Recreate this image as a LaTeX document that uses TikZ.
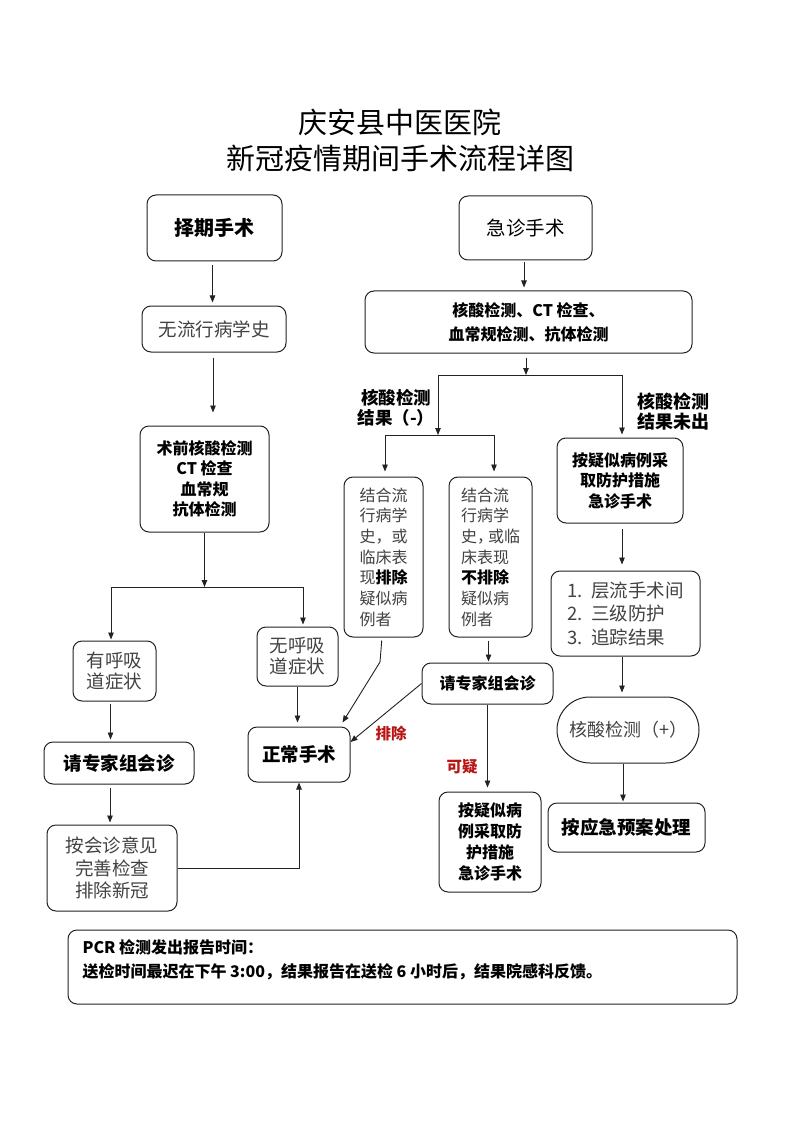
\documentclass[tikz,border=0pt]{standalone}
\usepackage{fontspec}
\setmainfont{Noto Sans CJK SC}
\usetikzlibrary{arrows.meta,calc}
\definecolor{txtgray}{RGB}{66,66,66}
\definecolor{redlbl}{RGB}{185,20,20}
\definecolor{edge}{RGB}{35,35,35}
\begin{document}
\begin{tikzpicture}[x=1pt,y=-1pt,
  box/.style={draw=edge, line width=1pt, rounded corners=9pt, inner sep=0pt, align=center},
  arr/.style={-{Triangle[length=7pt,width=5.5pt]}, line width=0.9pt, draw=edge},
  ln/.style={line width=0.9pt, draw=edge},
  bsixteen/.style={font=\bfseries\fontsize{16}{20.5}\selectfont},
  bbig/.style={font=\bfseries\fontsize{18.5}{22}\selectfont},
  gbig/.style={text=txtgray, font=\fontsize{18.5}{22}\selectfont},
  gsmall/.style={text=txtgray, font=\fontsize{16}{20.7}\selectfont},
  redtxt/.style={text=redlbl, font=\bfseries\fontsize{15.5}{18}\selectfont}]
\useasboundingbox (0,0) rectangle (800,1131);
\fill[white] (0,0) rectangle (800,1131);

% title
\node[font=\fontsize{29}{36}\selectfont] (t1) at (400,122) {庆安县中医医院};
\node[font=\fontsize{29}{36}\selectfont] (t2) at (400,158) {新冠疫情期间手术流程详图};

% left column
\node[box, minimum width=135, minimum height=66, font=\bfseries\fontsize{20}{24}\selectfont] (zq) at (214.5,228) {择期手术};
\node[box, minimum width=144, minimum height=46, gbig] (wl) at (214,329) {无流行病学史};
\node[box, minimum width=129, minimum height=106, bsixteen] (sq) at (204.5,479) {术前核酸检测\\CT 检查\\血常规\\抗体检测};
\node[box, minimum width=83, minimum height=60, gbig, font=\fontsize{18.5}{21}\selectfont] (yh) at (114.5,671) {有呼吸\\道症状};
\node[box, minimum width=81, minimum height=59, gbig, font=\fontsize{18.5}{21}\selectfont] (wh) at (297.5,656.5) {无呼吸\\道症状};
\node[box, minimum width=150, minimum height=42, bbig] (zj1) at (119,763) {请专家组会诊};
\node[box, minimum width=130, minimum height=86, gbig, font=\fontsize{18.5}{22.5}\selectfont] (ah) at (112,868) {按会诊意见\\完善检查\\排除新冠};
\node[box, minimum width=102, minimum height=55, bbig] (zc) at (299,754.5) {正常手术};

% right part
\node[box, minimum width=133, minimum height=64, font=\fontsize{19.5}{24}\selectfont] (jz) at (525.5,228) {急诊手术};
\node[box, minimum width=327, minimum height=62, font=\bfseries\fontsize{16}{24}\selectfont] (hs) at (528.5,322) {核酸检测、CT 检查、\\血常规检测、抗体检测};
\node[font=\bfseries\fontsize{17.5}{20}\selectfont, align=center] (lneg) at (396,408) {核酸检测\\结果（-）};
\node[font=\bfseries\fontsize{18}{20}\selectfont, align=center] (lpend) at (673.5,412) {核酸检测\\结果未出};
\node[box, minimum width=79, minimum height=160, gsmall, align=left] (jp) at (383.5,557) {结合流\\行病学\\史，或\\临床表\\现{\color{black}\bfseries 排除}\\疑似病\\例者};
\node[box, minimum width=83, minimum height=160, gsmall, align=left] (jb) at (490.5,557) {结合流\\行病学\\史，\kern-5pt或临\\床表现\\{\color{black}\bfseries 不排除}\\疑似病\\例者};
\node[box, minimum width=131, minimum height=41, bsixteen] (zj2) at (487.5,683.5) {请专家组会诊};
\node[box, minimum width=102, minimum height=100, font=\bfseries\fontsize{16}{21}\selectfont] (ay) at (490,842) {按疑似病\\例采取防\\护措施\\急诊手术};
\node[box, minimum width=126, minimum height=85, bsixteen] (ays) at (620,480.5) {按疑似病例采\\取防护措施\\急诊手术};
\node[box, minimum width=149, minimum height=85, gbig, font=\fontsize{18.5}{23.5}\selectfont, align=left] (cl) at (625.5,613.5) {\makebox[24pt][l]{1.}层流手术间\\\makebox[24pt][l]{2.}三级防护\\\makebox[24pt][l]{3.}追踪结果};
\node[box, minimum width=142, minimum height=66, rounded corners=33pt, gbig, font=\fontsize{18}{22}\selectfont] (pos) at (628,730) {核酸检测（+）};
\node[box, minimum width=157, minimum height=49, bbig] (yj) at (626.5,827.5) {按应急预案处理};

% bottom note
\node[box, minimum width=669, minimum height=74] (bt) at (402.5,967) {};
\node[anchor=west, align=left, font=\bfseries\fontsize{16}{24}\selectfont] (bttext) at (79,960) {PCR 检测发出报告时间：\\送检时间最迟在下午 3:00，结果报告在送检 6 小时后，结果院感科反馈。};

% connectors left
\draw[arr, shorten <=4pt, shorten >=3pt] ([xshift=-2pt]zq.south) -- ([xshift=-2pt]zq.south |- wl.north);
\draw[arr, shorten <=5pt, shorten >=13pt] ([xshift=-1pt]wl.south) -- ([xshift=-1pt]wl.south |- sq.north);
\coordinate (h3L) at (111,587);
\coordinate (h3R) at (303,587);
\draw[arr] (sq.south) -- (sq.south |- h3L);
\draw[ln] (h3L) -- (h3R);
\draw[arr, shorten >=1pt] (h3L) -- (h3L |- yh.north);
\draw[arr, shorten >=2pt] (h3R) -- (h3R |- wh.north);
\draw[arr, shorten >=4pt] (wh.south) -- (wh.south |- zc.north);
\draw[arr, shorten <=2pt, shorten >=2pt] ([xshift=-4pt]yh.south) -- ([xshift=-4pt]yh.south |- zj1.north);
\draw[arr, shorten <=3pt, shorten >=2pt] ([xshift=-9pt]zj1.south) -- ([xshift=-9pt]zj1.south |- ah.north);
\draw[arr] (ah.east) -- (ah.east -| zc.south) -- (zc.south);

% connectors right
\draw[arr, shorten <=2pt, shorten >=3pt] ([xshift=-1.5pt]jz.south) -- ([xshift=-1.5pt]jz.south |- hs.north);
\coordinate (h1L) at (438,375);
\coordinate (h1R) at (622,375);
\draw[arr, shorten <=4pt] ([xshift=-2.5pt]hs.south) -- ([xshift=-2.5pt]hs.south |- h1L);
\draw[ln] (h1L) -- (h1R);
\coordinate (h2L) at (385,435);
\coordinate (h2R) at (494,435);
\draw[arr] (h1L) -- (h1L |- h2L);
\draw[ln] (h2L) -- (h2R);
\draw[arr, shorten >=5pt] (h2L) -- (h2L |- jp.north);
\draw[arr, shorten >=5pt] (h2R) -- (h2R |- jb.north);
\draw[arr, shorten >=3pt] (h1R) -- (h1R |- ays.north);
\coordinate (b1) at (380,662);
\draw[arr, shorten <=3pt] ([xshift=-1.5pt]jp.south) -- (b1) -- ([xshift=-8pt,yshift=4pt]zc.north east);
\draw[arr] (zj2.west) -- ([yshift=12.5pt]zc.east);
\node[redtxt] (lexcl) at (391,733) {排除};
\draw[arr, shorten <=3pt, shorten >=1pt] ([xshift=-2pt]jb.south) -- ([xshift=-2pt]jb.south |- zj2.north);
\draw[arr, shorten >=4pt] (zj2.south) -- (zj2.south |- ay.north);
\node[redtxt] (lsusp) at (462,767) {可疑};
\draw[arr, shorten <=5pt, shorten >=6pt] ([xshift=2pt]ays.south) -- ([xshift=2pt]ays.south |- cl.north);
\draw[arr, shorten >=4pt] ([xshift=-3.5pt]cl.south) -- ([xshift=-3.5pt]cl.south |- pos.north);
\draw[arr, shorten >=1pt] ([xshift=-5pt]pos.south) -- ([xshift=-5pt]pos.south |- yj.north);
\end{tikzpicture}
\end{document}
